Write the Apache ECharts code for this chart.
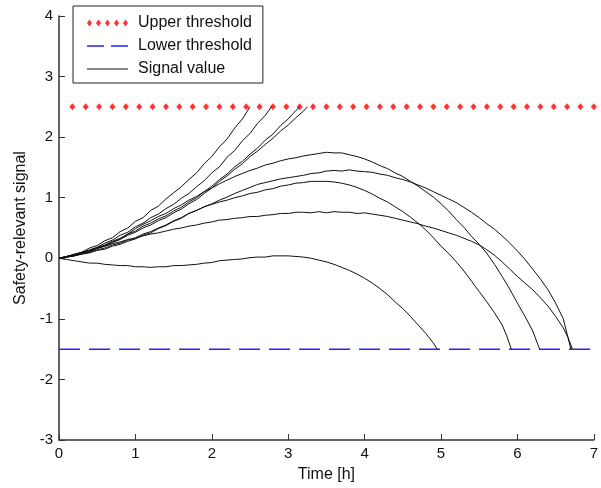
<!DOCTYPE html>
<html>
<head>
<meta charset="utf-8">
<script src="https://cdn.jsdelivr.net/npm/echarts@6/dist/echarts.min.js"></script>
<style>
html,body{margin:0;padding:0;background:#fff;}
#chart{width:601px;height:488px;}
</style>
</head>
<body>
<div id="chart"></div>
<script>
// ---- data ----
var xTicks = [0, 1, 2, 3, 4, 5, 6, 7];
var yTicks = [-3, -2, -1, 0, 1, 2, 3, 4];
var upperThreshold = 2.5;
var lowerThreshold = -1.5;
var upperMarkerTimes = [0.175,0.35,0.525,0.7,0.875,1.05,1.225,1.4,1.575,1.75,1.925,2.1,2.275,2.45,2.625,2.8,2.975,3.15,3.325,3.5,3.675,3.85,4.025,4.2,4.375,4.55,4.725,4.9,5.075,5.25,5.425,5.6,5.775,5.95,6.125,6.3,6.475,6.65,6.825,7.0];
var lowerLineTimes = [0, 7];

var signalA = [[0,0],[0.1,0.03],[0.2,0.07],[0.3,0.1],[0.4,0.17],[0.5,0.21],[0.6,0.29],[0.7,0.34],[0.8,0.44],[0.9,0.5],[1.0,0.61],[1.1,0.67],[1.2,0.79],[1.3,0.86],[1.4,0.98],[1.5,1.08],[1.6,1.18],[1.7,1.3],[1.8,1.41],[1.9,1.56],[2.0,1.68],[2.1,1.84],[2.2,1.97],[2.3,2.15],[2.4,2.3],[2.5,2.5]];
var signalB = [[0,0],[0.1,0.02],[0.2,0.06],[0.3,0.08],[0.4,0.14],[0.5,0.18],[0.6,0.25],[0.7,0.3],[0.8,0.38],[0.9,0.43],[1.0,0.52],[1.1,0.58],[1.2,0.67],[1.3,0.73],[1.4,0.82],[1.5,0.89],[1.6,0.99],[1.7,1.07],[1.8,1.18],[1.9,1.28],[2.0,1.41],[2.1,1.51],[2.2,1.67],[2.3,1.78],[2.4,1.94],[2.5,2.06],[2.6,2.23],[2.7,2.36],[2.78,2.5]];
var signalC = [[0,0],[0.1,0.03],[0.2,0.05],[0.3,0.1],[0.4,0.13],[0.5,0.18],[0.6,0.22],[0.7,0.28],[0.8,0.33],[0.9,0.4],[1.0,0.45],[1.1,0.53],[1.2,0.58],[1.3,0.65],[1.4,0.7],[1.5,0.78],[1.6,0.84],[1.7,0.93],[1.8,1.0],[1.9,1.1],[2.0,1.19],[2.1,1.3],[2.2,1.39],[2.3,1.51],[2.4,1.6],[2.5,1.72],[2.6,1.82],[2.7,1.95],[2.8,2.05],[2.9,2.19],[3.0,2.3],[3.1,2.44],[3.15,2.5]];
var signalD = [[0,0],[0.1,0.02],[0.2,0.04],[0.3,0.08],[0.4,0.11],[0.5,0.16],[0.6,0.2],[0.7,0.26],[0.8,0.31],[0.9,0.38],[1.0,0.43],[1.1,0.5],[1.2,0.55],[1.3,0.62],[1.4,0.67],[1.5,0.75],[1.6,0.81],[1.7,0.9],[1.8,0.97],[1.9,1.07],[2.0,1.16],[2.1,1.27],[2.2,1.36],[2.3,1.47],[2.4,1.56],[2.5,1.68],[2.6,1.77],[2.7,1.88],[2.8,1.98],[2.9,2.1],[3.0,2.2],[3.1,2.32],[3.2,2.43],[3.25,2.5]];
var signalE = [[0,0],[0.1,0.03],[0.2,0.05],[0.3,0.09],[0.4,0.12],[0.5,0.17],[0.6,0.21],[0.7,0.27],[0.8,0.32],[0.9,0.4],[1.0,0.49],[1.1,0.56],[1.2,0.62],[1.3,0.69],[1.4,0.74],[1.5,0.82],[1.6,0.88],[1.7,0.96],[1.8,1.02],[1.9,1.1],[2.0,1.16],[2.1,1.23],[2.2,1.29],[2.3,1.35],[2.4,1.4],[2.5,1.45],[2.6,1.49],[2.7,1.54],[2.8,1.57],[2.9,1.61],[3.0,1.64],[3.1,1.66],[3.2,1.69],[3.3,1.71],[3.4,1.73],[3.5,1.75],[3.6,1.74],[3.7,1.74],[3.8,1.71],[3.9,1.68],[4.0,1.64],[4.1,1.59],[4.2,1.53],[4.3,1.48],[4.4,1.41],[4.5,1.35],[4.6,1.27],[4.7,1.19],[4.8,1.1],[4.9,1.01],[5.0,0.9],[5.1,0.78],[5.2,0.64],[5.3,0.51],[5.4,0.36],[5.5,0.23],[5.6,0.08],[5.7,-0.1],[5.8,-0.3],[5.9,-0.51],[6.0,-0.74],[6.1,-0.96],[6.2,-1.2],[6.29,-1.5]];
var signalF = [[0,0],[0.1,0.02],[0.2,0.04],[0.3,0.07],[0.4,0.1],[0.5,0.14],[0.6,0.17],[0.7,0.22],[0.8,0.25],[0.9,0.3],[1.0,0.34],[1.1,0.4],[1.2,0.44],[1.3,0.5],[1.4,0.55],[1.5,0.62],[1.6,0.67],[1.7,0.74],[1.8,0.79],[1.9,0.85],[2.0,0.9],[2.1,0.96],[2.2,1.01],[2.3,1.07],[2.4,1.12],[2.5,1.17],[2.6,1.22],[2.7,1.25],[2.8,1.28],[2.9,1.31],[3.0,1.33],[3.1,1.35],[3.2,1.37],[3.3,1.4],[3.4,1.41],[3.5,1.44],[3.6,1.45],[3.7,1.44],[3.8,1.46],[3.9,1.44],[4.0,1.43],[4.1,1.42],[4.2,1.39],[4.3,1.37],[4.4,1.33],[4.5,1.3],[4.6,1.26],[4.7,1.21],[4.8,1.16],[4.9,1.1],[5.0,1.04],[5.1,0.98],[5.2,0.92],[5.3,0.84],[5.4,0.76],[5.5,0.67],[5.6,0.57],[5.7,0.48],[5.8,0.37],[5.9,0.25],[6.0,0.12],[6.1,-0.02],[6.2,-0.18],[6.3,-0.34],[6.4,-0.52],[6.5,-0.74],[6.6,-1.0],[6.7,-1.5]];
var signalG = [[0,0],[0.1,0.02],[0.2,0.04],[0.3,0.07],[0.4,0.09],[0.5,0.13],[0.6,0.15],[0.7,0.2],[0.8,0.23],[0.9,0.28],[1.0,0.32],[1.1,0.38],[1.2,0.42],[1.3,0.49],[1.4,0.54],[1.5,0.61],[1.6,0.66],[1.7,0.74],[1.8,0.79],[1.9,0.85],[2.0,0.89],[2.1,0.93],[2.2,0.96],[2.3,1.0],[2.4,1.03],[2.5,1.07],[2.6,1.09],[2.7,1.13],[2.8,1.15],[2.9,1.19],[3.0,1.21],[3.1,1.24],[3.2,1.25],[3.3,1.27],[3.4,1.27],[3.5,1.27],[3.6,1.26],[3.7,1.24],[3.8,1.21],[3.9,1.17],[4.0,1.12],[4.1,1.06],[4.2,0.99],[4.3,0.93],[4.4,0.85],[4.5,0.77],[4.6,0.68],[4.7,0.58],[4.8,0.47],[4.9,0.34],[5.0,0.2],[5.1,0.08],[5.2,-0.06],[5.3,-0.21],[5.4,-0.38],[5.5,-0.55],[5.6,-0.72],[5.7,-0.9],[5.8,-1.1],[5.86,-1.28],[5.92,-1.5]];
var signalH = [[0,0],[0.1,0.03],[0.2,0.06],[0.3,0.1],[0.4,0.13],[0.5,0.17],[0.6,0.2],[0.7,0.24],[0.8,0.27],[0.9,0.31],[1.0,0.33],[1.1,0.37],[1.2,0.4],[1.3,0.42],[1.4,0.45],[1.5,0.48],[1.6,0.5],[1.7,0.53],[1.8,0.55],[1.9,0.58],[2.0,0.6],[2.1,0.63],[2.2,0.64],[2.3,0.66],[2.4,0.67],[2.5,0.69],[2.6,0.69],[2.7,0.71],[2.8,0.72],[2.9,0.74],[3.0,0.74],[3.1,0.76],[3.2,0.76],[3.3,0.75],[3.4,0.77],[3.5,0.75],[3.6,0.77],[3.7,0.76],[3.8,0.76],[3.9,0.74],[4.0,0.75],[4.1,0.73],[4.2,0.71],[4.3,0.69],[4.4,0.66],[4.5,0.63],[4.6,0.6],[4.7,0.57],[4.8,0.53],[4.9,0.5],[5.0,0.46],[5.1,0.42],[5.2,0.38],[5.3,0.33],[5.4,0.28],[5.5,0.22],[5.6,0.14],[5.7,0.05],[5.8,-0.06],[5.9,-0.18],[6.0,-0.3],[6.1,-0.41],[6.2,-0.52],[6.3,-0.65],[6.4,-0.79],[6.5,-0.96],[6.6,-1.15],[6.66,-1.3],[6.72,-1.5]];
var signalI = [[0,0],[0.1,-0.02],[0.2,-0.04],[0.3,-0.06],[0.4,-0.08],[0.5,-0.08],[0.6,-0.1],[0.7,-0.11],[0.8,-0.12],[0.9,-0.12],[1.0,-0.14],[1.1,-0.14],[1.2,-0.15],[1.3,-0.14],[1.4,-0.14],[1.5,-0.12],[1.6,-0.12],[1.7,-0.11],[1.8,-0.1],[1.9,-0.08],[2.0,-0.07],[2.1,-0.04],[2.2,-0.03],[2.3,-0.02],[2.4,-0.01],[2.5,0.01],[2.6,0.02],[2.7,0.02],[2.8,0.04],[2.9,0.04],[3.0,0.04],[3.1,0.03],[3.2,0.02],[3.3,0.0],[3.4,-0.03],[3.5,-0.06],[3.6,-0.1],[3.7,-0.15],[3.8,-0.2],[3.9,-0.26],[4.0,-0.33],[4.1,-0.41],[4.2,-0.5],[4.3,-0.6],[4.4,-0.72],[4.5,-0.83],[4.6,-0.96],[4.7,-1.1],[4.8,-1.24],[4.9,-1.4],[4.95,-1.5]];
var signals = [signalA, signalB, signalC, signalD, signalE, signalF, signalG, signalH, signalI];

var legendNames = ['Upper threshold', 'Lower threshold', 'Signal value'];

// ---- chart ----
var chart = echarts.init(document.getElementById('chart'), null, {renderer: 'canvas'});
var FONT = 'Liberation Sans, Arial, sans-serif';

var diamondsIcon = 'path://M2.5,0L5,3.5L2.5,7L0,3.5Z M11.5,0L14,3.5L11.5,7L9,3.5Z M20.5,0L23,3.5L20.5,7L18,3.5Z M29.5,0L32,3.5L29.5,7L27,3.5Z M38.5,0L41,3.5L38.5,7L36,3.5Z';
var dashIcon = 'path://M0,0 M0,2.8H17V4.2H0Z M24,2.8H41V4.2H24Z M41,7';
var solidIcon = 'path://M0,0 M0,2.9H41V4.1H0Z M41,7';

var series = [];
series.push({
  name: legendNames[0],
  type: 'scatter',
  data: upperMarkerTimes.map(function (t) { return [t, upperThreshold]; }),
  symbol: 'diamond',
  symbolSize: [6, 7],
  itemStyle: {color: '#ff0000'},
  z: 2
});
series.push({
  name: legendNames[1],
  type: 'line',
  data: lowerLineTimes.map(function (t) { return [t, lowerThreshold]; }),
  showSymbol: false,
  lineStyle: {color: '#2525ff', width: 1.5, type: [21, 9]},
  itemStyle: {color: '#2525ff'},
  z: 2
});
signals.forEach(function (s) {
  series.push({
    name: legendNames[2],
    type: 'line',
    data: s,
    showSymbol: false,
    lineStyle: {color: '#111', width: 1},
    itemStyle: {color: '#111'},
    z: 3
  });
});

chart.setOption({
  animation: false,
  backgroundColor: '#fff',
  textStyle: {fontFamily: FONT},
  grid: {left: 59, right: 2, top: 16, bottom: 45, containLabel: false},
  legend: {
    orient: 'vertical',
    left: 73,
    top: 6,
    padding: [9, 11, 6, 14],
    itemGap: 7,
    itemWidth: 41,
    itemHeight: 7,
    borderColor: '#222',
    borderWidth: 1,
    backgroundColor: '#fff',
    selectedMode: false,
    textStyle: {fontSize: 16, color: '#111', fontFamily: FONT, padding: [0, 0, 0, 5], lineHeight: 16},
    data: [
      {name: legendNames[0], icon: diamondsIcon},
      {name: legendNames[1], icon: dashIcon},
      {name: legendNames[2], icon: solidIcon}
    ]
  },
  xAxis: {
    type: 'value',
    min: xTicks[0],
    max: xTicks[xTicks.length - 1],
    interval: 1,
    name: 'Time [h]',
    nameLocation: 'middle',
    nameGap: 27,
    nameTextStyle: {fontSize: 16, color: '#111', fontFamily: FONT},
    axisLine: {onZero: false, lineStyle: {color: '#333', width: 1.5}},
    axisTick: {inside: true, length: 6, lineStyle: {color: '#333', width: 1}},
    axisLabel: {fontSize: 15, color: '#111', margin: 6, fontFamily: FONT},
    splitLine: {show: false}
  },
  yAxis: {
    type: 'value',
    min: yTicks[0],
    max: yTicks[yTicks.length - 1],
    interval: 1,
    name: 'Safety-relevant signal',
    nameLocation: 'middle',
    nameGap: 30,
    nameTextStyle: {fontSize: 16, color: '#111', fontFamily: FONT},
    axisLine: {show: true, onZero: false, lineStyle: {color: '#333', width: 1.5}},
    axisTick: {show: true, inside: true, length: 6, lineStyle: {color: '#333', width: 1}},
    axisLabel: {fontSize: 15, color: '#111', margin: 6, fontFamily: FONT},
    splitLine: {show: false}
  },
  series: series
});
</script>
</body>
</html>
